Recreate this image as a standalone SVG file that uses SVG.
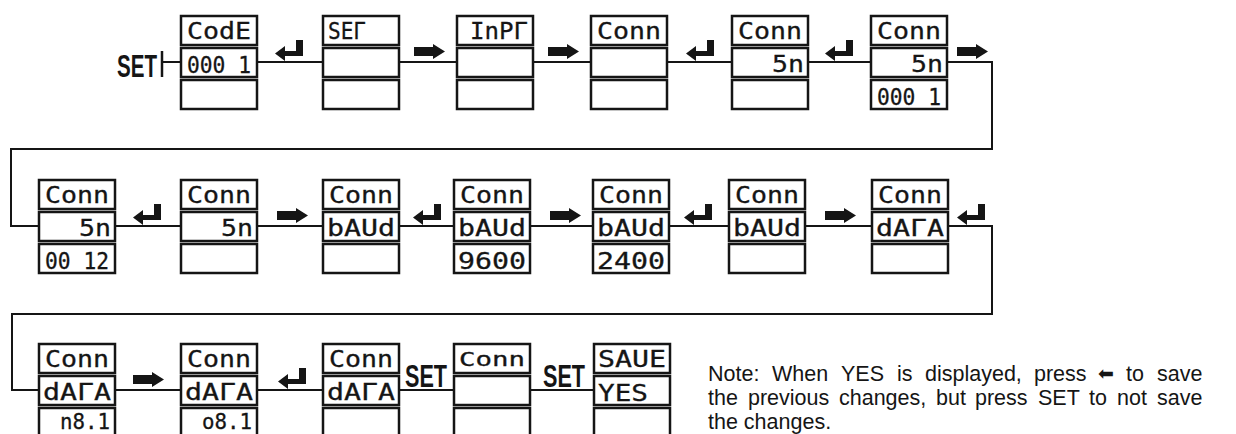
<svg xmlns="http://www.w3.org/2000/svg" xmlns:xlink="http://www.w3.org/1999/xlink" width="1236" height="434" viewBox="0 0 1236 434">
<style>
.box{fill:#fff;stroke:#151515;stroke-width:2.5}
.seg{font-family:"DejaVu Sans Mono","Liberation Mono",monospace;font-size:23px;fill:#151515;stroke:#151515;stroke-width:0.3}
.wire{fill:none;stroke:#151515;stroke-width:2}
.icon{fill:#151515}
.set{font-family:"Liberation Sans",Arial,sans-serif;font-weight:bold;font-size:32px;fill:#151515}
.note{font-family:"Liberation Sans",Arial,"DejaVu Sans",sans-serif;font-size:21.5px;fill:#151515}
</style>
<defs>
<path id="ent" d="M0,-8.5 L10,-16 L10,-11 L21,-11 L21,-22 L28,-22 L28,-6 L10,-6 L10,-1 Z"/>
<path id="rar" d="M0,-15 L19,-15 L19,-18 L31,-10.5 L19,-3 L19,-6 L0,-6 Z"/>
<g id="frame">
<rect class="box" x="0" y="0" width="76" height="29"/>
<rect class="box" x="0" y="32" width="76" height="29"/>
<rect class="box" x="0" y="64" width="76" height="29"/>
</g>
</defs>
<rect width="1236" height="434" fill="#fff"/>

<g id="connectors">
<path class="wire" d="M162,51 V77" style="stroke-width:2.5"/>
<path class="wire" d="M162,62 H182 M257,62 H323 M399,62 H457 M533,62 H591 M667,62 H732 M808,62 H871"/>
<path class="wire" d="M947,62 H992 V149 H11 V226 H39"/>
<path class="wire" d="M115,226 H181 M257,226 H323 M399,226 H454 M530,226 H593 M669,226 H729 M805,226 H872"/>
<path class="wire" d="M948,226 H992 V314 H12 V390 H39"/>
<path class="wire" d="M115,390 H181 M257,390 H323 M399,390 H454 M530,390 H594"/>
<g class="icon">
<use xlink:href="#ent" x="275" y="62"/>
<use xlink:href="#rar" x="414" y="62"/>
<use xlink:href="#rar" x="548" y="62"/>
<use xlink:href="#ent" x="686" y="62"/>
<use xlink:href="#ent" x="825" y="62"/>
<use xlink:href="#rar" x="957" y="62"/>
<use xlink:href="#ent" x="133" y="226"/>
<use xlink:href="#rar" x="277" y="226"/>
<use xlink:href="#ent" x="413" y="226"/>
<use xlink:href="#rar" x="550" y="226"/>
<use xlink:href="#ent" x="684" y="226"/>
<use xlink:href="#rar" x="825" y="226"/>
<use xlink:href="#ent" x="957" y="226"/>
<use xlink:href="#rar" x="133" y="390"/>
<use xlink:href="#ent" x="278" y="390"/>
</g>
<text class="set" x="117" y="77" textLength="40" lengthAdjust="spacingAndGlyphs">SET</text>
<text class="set" x="405" y="387" textLength="42" lengthAdjust="spacingAndGlyphs">SET</text>
<text class="set" x="543" y="387" textLength="42" lengthAdjust="spacingAndGlyphs">SET</text>
</g>

<g id="n1" transform="translate(181,16)"><use xlink:href="#frame"/>
<text class="seg" x="6" y="23" textLength="64" lengthAdjust="spacingAndGlyphs">CodE</text>
<text class="seg" x="6" y="57" textLength="64" lengthAdjust="spacingAndGlyphs">000 1</text></g>
<g id="n2" transform="translate(323,16)"><use xlink:href="#frame"/>
<text class="seg" x="5" y="23" textLength="38" lengthAdjust="spacingAndGlyphs">SEГ</text></g>
<g id="n3" transform="translate(457,16)"><use xlink:href="#frame"/>
<text class="seg" x="13" y="23" textLength="58" lengthAdjust="spacingAndGlyphs">InPГ</text></g>
<g id="n4" transform="translate(591,16)"><use xlink:href="#frame"/>
<text class="seg" x="6" y="23" textLength="64" lengthAdjust="spacingAndGlyphs">Conn</text></g>
<g id="n5" transform="translate(732,16)"><use xlink:href="#frame"/>
<text class="seg" x="6" y="23" textLength="64" lengthAdjust="spacingAndGlyphs">Conn</text>
<text class="seg" x="40" y="56" textLength="32" lengthAdjust="spacingAndGlyphs">5n</text></g>
<g id="n6" transform="translate(871,16)"><use xlink:href="#frame"/>
<text class="seg" x="6" y="23" textLength="64" lengthAdjust="spacingAndGlyphs">Conn</text>
<text class="seg" x="40" y="56" textLength="32" lengthAdjust="spacingAndGlyphs">5n</text>
<text class="seg" x="6" y="89" textLength="64" lengthAdjust="spacingAndGlyphs">000 1</text></g>

<g id="n7" transform="translate(39,180)"><use xlink:href="#frame"/>
<text class="seg" x="6" y="23" textLength="64" lengthAdjust="spacingAndGlyphs">Conn</text>
<text class="seg" x="40" y="56" textLength="32" lengthAdjust="spacingAndGlyphs">5n</text>
<text class="seg" x="6" y="89" textLength="64" lengthAdjust="spacingAndGlyphs">00 12</text></g>
<g id="n8" transform="translate(181,180)"><use xlink:href="#frame"/>
<text class="seg" x="6" y="23" textLength="64" lengthAdjust="spacingAndGlyphs">Conn</text>
<text class="seg" x="40" y="56" textLength="32" lengthAdjust="spacingAndGlyphs">5n</text></g>
<g id="n9" transform="translate(323,180)"><use xlink:href="#frame"/>
<text class="seg" x="6" y="23" textLength="64" lengthAdjust="spacingAndGlyphs">Conn</text>
<text class="seg" x="4" y="56" textLength="68" lengthAdjust="spacingAndGlyphs">bAUd</text></g>
<g id="n10" transform="translate(454,180)"><use xlink:href="#frame"/>
<text class="seg" x="6" y="23" textLength="64" lengthAdjust="spacingAndGlyphs">Conn</text>
<text class="seg" x="4" y="56" textLength="68" lengthAdjust="spacingAndGlyphs">bAUd</text>
<text class="seg" x="4" y="89" textLength="68" lengthAdjust="spacingAndGlyphs">9600</text></g>
<g id="n11" transform="translate(593,180)"><use xlink:href="#frame"/>
<text class="seg" x="6" y="23" textLength="64" lengthAdjust="spacingAndGlyphs">Conn</text>
<text class="seg" x="4" y="56" textLength="68" lengthAdjust="spacingAndGlyphs">bAUd</text>
<text class="seg" x="4" y="89" textLength="68" lengthAdjust="spacingAndGlyphs">2400</text></g>
<g id="n12" transform="translate(729,180)"><use xlink:href="#frame"/>
<text class="seg" x="6" y="23" textLength="64" lengthAdjust="spacingAndGlyphs">Conn</text>
<text class="seg" x="4" y="56" textLength="68" lengthAdjust="spacingAndGlyphs">bAUd</text></g>
<g id="n13" transform="translate(872,180)"><use xlink:href="#frame"/>
<text class="seg" x="6" y="23" textLength="64" lengthAdjust="spacingAndGlyphs">Conn</text>
<text class="seg" x="4" y="56" textLength="68" lengthAdjust="spacingAndGlyphs">dAГA</text></g>

<g id="n14" transform="translate(39,344)"><use xlink:href="#frame"/>
<text class="seg" x="6" y="23" textLength="64" lengthAdjust="spacingAndGlyphs">Conn</text>
<text class="seg" x="4" y="56" textLength="68" lengthAdjust="spacingAndGlyphs">dAГA</text>
<text class="seg" x="21" y="85" textLength="50" lengthAdjust="spacingAndGlyphs" style="font-size:21px">n8.1</text></g>
<g id="n15" transform="translate(181,344)"><use xlink:href="#frame"/>
<text class="seg" x="6" y="23" textLength="64" lengthAdjust="spacingAndGlyphs">Conn</text>
<text class="seg" x="4" y="56" textLength="68" lengthAdjust="spacingAndGlyphs">dAГA</text>
<text class="seg" x="21" y="85" textLength="50" lengthAdjust="spacingAndGlyphs" style="font-size:21px">o8.1</text></g>
<g id="n16" transform="translate(323,344)"><use xlink:href="#frame"/>
<text class="seg" x="6" y="23" textLength="64" lengthAdjust="spacingAndGlyphs">Conn</text>
<text class="seg" x="4" y="56" textLength="68" lengthAdjust="spacingAndGlyphs">dAГA</text></g>
<g id="n17" transform="translate(454,344)"><use xlink:href="#frame"/>
<text class="seg" x="5" y="22" textLength="66" lengthAdjust="spacingAndGlyphs" style="font-size:20px">Conn</text></g>
<g id="n18" transform="translate(594,344)"><use xlink:href="#frame"/>
<text class="seg" x="4" y="23" textLength="68" lengthAdjust="spacingAndGlyphs">SAUE</text>
<text class="seg" x="4" y="57" textLength="50" lengthAdjust="spacingAndGlyphs">YES</text></g>

<g id="note">
<text class="note" y="381"><tspan x="708">Note:</tspan><tspan x="772">When</tspan><tspan x="841">YES</tspan><tspan x="897">is</tspan><tspan x="925">displayed,</tspan><tspan x="1034">press</tspan><tspan x="1098" dy="-1" style="font-family:'DejaVu Sans',sans-serif;font-size:19px">⬅</tspan><tspan x="1126" dy="1">to</tspan><tspan x="1157">save</tspan></text>
<text class="note" y="405"><tspan x="708">the</tspan><tspan x="748">previous</tspan><tspan x="839">changes,</tspan><tspan x="936">but</tspan><tspan x="975">press</tspan><tspan x="1038">SET</tspan><tspan x="1089">to</tspan><tspan x="1117">not</tspan><tspan x="1157">save</tspan></text>
<text class="note" x="708" y="429">the changes.</text>
</g>
</svg>
